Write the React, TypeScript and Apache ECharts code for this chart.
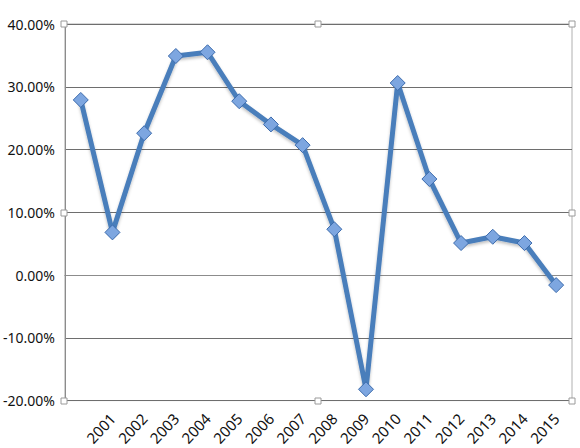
import React, { useEffect, useRef } from "react";
import * as echarts from "echarts";

const categories = ["", "2001", "2002", "2003", "2004", "2005", "2006", "2007", "2008", "2009", "2010", "2011", "2012", "2013", "2014", "2015"];
const growth = [27.9, 6.8, 22.6, 34.9, 35.5, 27.7, 24.0, 20.7, 7.3, -18.2, 30.6, 15.3, 5.1, 6.1, 5.1, -1.6];
const yTicks = { min: -20, max: 40, interval: 10 };

export default function App() {
  const ref = useRef<HTMLDivElement>(null);
  useEffect(() => {
    if (!ref.current) return;
    const chart = echarts.init(ref.current, null, { renderer: "svg" });
    const L = 64, R = 572, T = 24, B = 401;
    const mid = Math.round((L + R) / 2);
    const vmid = Math.round((T + B) / 2);
    const handles = [
      [L, T], [mid, T], [R, T],
      [L, vmid], [R, vmid],
      [L, B], [mid, B], [R, B],
    ].map(([x, y]) => ({
      type: "rect",
      shape: { x: x - 3, y: y - 3, width: 6, height: 6 },
      style: { fill: "#ffffff", stroke: "#9a9a9a", lineWidth: 1 },
      z: 100,
    }));
    chart.setOption({
      animation: false,
      backgroundColor: "#ffffff",
      grid: { left: L, right: 580 - R, top: T, bottom: 448 - B, show: true, borderColor: "#b0b0b0", borderWidth: 1 },
      xAxis: {
        type: "category",
        data: categories,
        boundaryGap: true,
        axisLine: { show: true, lineStyle: { color: "#8c8c8c", width: 1 } },
        axisTick: { show: false },
        axisLabel: {
          interval: 0,
          rotate: 47,
          margin: 15,
          color: "#111111",
          fontSize: 15,
          fontFamily: "Noto Sans",
        },
      },
      yAxis: {
        type: "value",
        min: yTicks.min,
        max: yTicks.max,
        interval: yTicks.interval,
        axisLine: { show: true, lineStyle: { color: "#8c8c8c", width: 1 } },
        axisTick: { show: false },
        splitLine: { show: true, lineStyle: { color: "#6e6e6e", width: 1 } },
        axisLabel: {
          margin: 10,
          color: "#111111",
          fontSize: 14,
          fontFamily: "Noto Sans",
          formatter: (v: number) => v.toFixed(2) + "%",
        },
      },
      series: [
        {
          type: "line",
          data: growth,
          smooth: false,
          symbol: "diamond",
          symbolSize: 15,
          lineStyle: { color: "#4a7ebb", width: 5, shadowColor: "rgba(0,0,0,0.25)", shadowBlur: 3, shadowOffsetY: 2 },
          itemStyle: { color: "#7da6e0", borderColor: "#3d6cad", borderWidth: 1 },
        },
      ],
      graphic: handles,
    });
    return () => chart.dispose();
  }, []);
  return <div ref={ref} style={{ width: 580, height: 448, position: "absolute", left: 0, top: 0 }} />;
}
